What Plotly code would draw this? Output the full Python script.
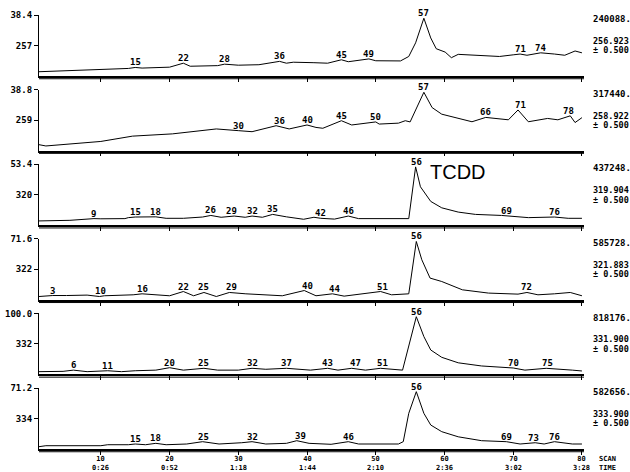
import numpy as np
import plotly.graph_objects as go

# ---------------- data (scan number vs. relative intensity, % of panel full scale) -------------
p1_scan = [1, 4.5, 10, 14, 15, 16, 20, 22, 23, 25.5, 27, 28, 30, 33, 36, 37, 38, 41, 43, 45, 46, 49, 50,
           53.6, 54.8, 55.8, 57, 58, 58.8, 60.1, 61, 62, 64, 66, 68, 70, 71, 72, 74, 76, 77.5, 79, 80]
p1_int = [7, 8.5, 10, 12.4, 14, 13, 14.5, 21, 16, 16, 17, 19.4, 17.7, 18.5, 24, 21, 22.6, 21.8, 21, 26.6, 23.4, 28, 25,
          24.7, 32, 54.4, 94.7, 62.4, 44.7, 39.2, 30, 35.5, 34, 33, 32, 34.7, 36, 34, 38, 36, 34, 41, 38]
p1_peaks = [15, 22, 28, 36, 45, 49, 57, 71, 74]

p2_scan = [1, 2, 10, 14.6, 20.4, 26.8, 30, 32, 35.5, 37.4, 40, 41.3, 42.3, 45, 46.5, 50, 50.5, 53.3, 54.3, 55,
           57, 58.2, 59.6, 64, 66, 69.3, 70.7, 72.2, 75, 76.5, 78.3, 79, 80]
p2_int = [9.7, 7.6, 15, 23.7, 27.4, 35.5, 32.7, 31, 40.8, 35.5, 42, 38, 36.6, 49, 42, 47, 43.5, 45, 49, 47,
          95.6, 70.5, 59.7, 47.3, 54.4, 50.5, 66.6, 47.3, 52.7, 50.5, 57, 46, 54]
p2_peaks = [30, 36, 40, 45, 50, 57, 66, 71, 78]

p3_scan = [1, 5.5, 9, 10, 13.5, 14, 15, 18, 19.5, 22, 24.8, 26, 27.5, 29.4, 31, 32, 33.5, 35, 37, 39.5,
           41, 42, 44, 46, 47.5, 54.8, 55.8, 56.5, 58, 59.6, 62, 64.5, 68.3, 72.2, 76, 78, 80]
p3_int = [7, 8, 10.8, 10.5, 10.8, 12.4, 13.4, 13.7, 11.3, 11.3, 13.4, 16, 13, 15, 13, 15, 13, 17.7, 13.7, 9.7,
          13, 11.3, 10, 15, 10.8, 10.8, 95.6, 63, 39, 28.5, 21.5, 17.7, 16, 12.4, 13.4, 11.3, 11.3]
p3_peaks = [9, 15, 18, 26, 29, 32, 35, 42, 46, 56, 69, 76]

p4_scan = [1, 3, 5, 8, 9.8, 10.5, 14.7, 16, 20, 22, 23.5, 25, 26.8, 28.7, 31.1, 36.4, 39.6, 41.3, 43.7, 45.4,
           50.7, 52.3, 54.8, 55.9, 56.7, 57.9, 59.6, 62.6, 66.4, 70.7, 72, 73.6, 76, 78.3, 80]
p4_int = [5.4, 7, 7, 7.7, 5.4, 6.6, 8.2, 9.8, 6.6, 13.6, 6.6, 12, 5.4, 12, 9.8, 6.6, 15.2, 6.6, 9.8, 6,
          13.6, 8.2, 9.8, 95.6, 65.6, 35.6, 30, 16.4, 11, 9.3, 12, 8.2, 9.8, 12, 6.6]
p4_peaks = [3, 10, 16, 22, 25, 29, 40, 44, 51, 56, 72]

p5_scan = [1, 4.5, 6, 8, 11, 13, 15, 18, 20, 22, 25, 27, 30, 32, 34, 37, 40.5, 43, 44.5, 46.5,
           48.5, 50.7, 53.9, 54.4, 55.2, 55.9, 57, 58, 59.6, 62, 65.4, 69.3, 70, 71.7, 74.8, 78.6, 80]
p5_int = [4.5, 5, 7, 4.5, 6, 4.5, 6, 7, 11, 7, 10, 7, 7, 10, 8.4, 10, 7, 10, 7, 10,
          7, 10, 7, 29, 68, 94.6, 62, 40, 28, 19, 13.8, 10, 10.5, 7, 10, 7, 5.6]
p5_peaks = [6, 11, 20, 25, 32, 37, 43, 47, 51, 56, 70, 75]

p6_scan = [1, 2, 10, 11, 14, 15, 16.5, 18, 19.5, 22.5, 24.8, 27.2, 30.5, 32, 34, 37, 38.5, 40.3, 43.5, 46,
           47.5, 53.3, 54, 54.8, 55.9, 57, 58, 59.6, 62, 65.4, 69, 71, 73.2, 74.5, 76, 78.6, 80]
p6_int = [3.8, 5.4, 5.4, 7, 7, 8.2, 7, 9.3, 7, 8.2, 12, 8.2, 10.3, 12, 8.2, 9.3, 13.6, 9.3, 7.7, 12,
          8.2, 8.2, 12, 58.5, 94, 58.5, 39.3, 28.4, 20, 13.6, 12, 8.2, 10.3, 8.2, 12, 8.2, 8.2]
p6_peaks = [15, 18, 25, 32, 39, 46, 56, 69, 73, 76]

full_scale = ["38.4", "38.8", "53.4", "71.6", "100.0", "71.2"]
nominal_mass = ["257", "259", "320", "322", "332", "334"]
max_counts = ["240088.", "317440.", "437248.", "585728.", "818176.", "582656."]
exact_mass = ["256.923", "258.922", "319.904", "321.883", "331.900", "333.900"]
window = ["\u00b1 0.500"] * 6

x_ticks = [10, 20, 30, 40, 50, 60, 70, 80]
x_time = ["0:26", "0:52", "1:18", "1:44", "2:10", "2:36", "3:02", "3:28"]

panels = [(p1_scan, p1_int, p1_peaks), (p2_scan, p2_int, p2_peaks), (p3_scan, p3_int, p3_peaks),
          (p4_scan, p4_int, p4_peaks), (p5_scan, p5_int, p5_peaks), (p6_scan, p6_int, p6_peaks)]

# ---------------- layout geometry ----------------
W, H = 630, 472
ML, MR, MT, MB = 39, 46, 15, 23
PH = H - MT - MB
PW = W - ML - MR
STEP, PANEL_H = 74.6, 61

FONT = "DejaVu Sans Mono"
fig = go.Figure()
layout = dict(width=W, height=H, margin=dict(l=ML, r=MR, t=MT, b=MB, autoexpand=False),
              paper_bgcolor="white", plot_bgcolor="white", showlegend=False,
              font=dict(family=FONT, size=9, color="black"))
annotations = []
shapes = []

for i, (sc, it, pk) in enumerate(panels):
    n = i + 1
    sfx = "" if n == 1 else str(n)
    top_px = i * STEP
    bot_px = top_px + PANEL_H
    dom = [(PH - bot_px) / PH, (PH - top_px) / PH]
    dom = [max(0.0, dom[0]), min(1.0, dom[1])]
    fig.add_trace(go.Scatter(x=sc, y=it, mode="lines", line=dict(color="black", width=1),
                             xaxis="x" + sfx, yaxis="y" + sfx, hoverinfo="skip"))
    layout["xaxis" + sfx] = dict(domain=[0, 1], anchor="y" + sfx, range=[1, 80.3], automargin=False,
                                 showline=True, linecolor="black", linewidth=1.5,
                                 ticks="outside", ticklen=4, tickwidth=1, tickcolor="black",
                                 tickvals=x_ticks, showticklabels=False,
                                 showgrid=False, zeroline=False)
    layout["yaxis" + sfx] = dict(domain=dom, anchor="x" + sfx, range=[0, 100], automargin=False,
                                 showline=True, linecolor="black", linewidth=1.2,
                                 ticks="outside", ticklen=4, tickcolor="black",
                                 tickvals=[50, 100],
                                 ticktext=[f"<b>{nominal_mass[i]}</b>", f"<b>{full_scale[i]}</b>"],
                                 showgrid=False, zeroline=False,
                                 tickfont=dict(family=FONT, size=9))
    # second line of the double axis bar
    shapes.append(dict(type="line", xref="x" + sfx + " domain", yref="y" + sfx + " domain",
                       x0=0, x1=1, y0=-0.045, y1=-0.045, line=dict(color="black", width=1)))
    # peak scan-number labels
    sc_a = np.array(sc, dtype=float)
    it_a = np.array(it, dtype=float)
    for p in pk:
        yv = float(np.interp(p, sc_a, it_a))
        near = it_a[np.abs(sc_a - p) <= 0.6]
        if near.size:
            yv = max(yv, float(near.max()))
        annotations.append(dict(x=p, y=yv, xref="x" + sfx, yref="y" + sfx, text=f"<b>{p}</b>",
                                showarrow=False, yanchor="bottom", xanchor="center", yshift=-2,
                                font=dict(family=FONT, size=9)))
    # right-hand side info
    annotations.append(dict(x=1.012, y=0.93, xref="paper", yref="y" + sfx + " domain",
                            text=f"<b>{max_counts[i]}</b>", showarrow=False, xanchor="left",
                            yanchor="middle", font=dict(family=FONT, size=9)))
    annotations.append(dict(x=1.012, y=0.575, xref="paper", yref="y" + sfx + " domain",
                            text=f"<b>{exact_mass[i]}</b>", showarrow=False, xanchor="left",
                            yanchor="middle", font=dict(family=FONT, size=8.5)))
    annotations.append(dict(x=1.012, y=0.42, xref="paper", yref="y" + sfx + " domain",
                            text=f"<b>{window[i]}</b>", showarrow=False, xanchor="left",
                            yanchor="middle", font=dict(family=FONT, size=8.5)))

# bottom scan / time tick labels (two lines each)
Y_LBL = -(463 - (H - MB)) / PH
for v, t in zip(x_ticks, x_time):
    annotations.append(dict(x=v, y=Y_LBL, xref="x6", yref="paper", text=f"<b>{v}</b><br><b>{t}</b>",
                            showarrow=False, xanchor="center", yanchor="middle",
                            font=dict(family=FONT, size=7)))
annotations.append(dict(x=(597 - ML) / PW, y=Y_LBL, xref="paper", yref="paper",
                        text="<b>SCAN</b><br><b>TIME</b>", showarrow=False, xanchor="left",
                        yanchor="middle", align="left", font=dict(family=FONT, size=7)))

# TCDD label
annotations.append(dict(x=62, y=88, xref="x3", yref="y3", text="TCDD", showarrow=False,
                        xanchor="center", yanchor="middle",
                        font=dict(family="Liberation Sans", size=20, color="black")))

layout["annotations"] = annotations
layout["shapes"] = shapes
fig.update_layout(**layout)
fig.write_html("out.html", config={"displayModeBar": False},
               post_script="document.body.style.margin='0px';document.body.style.overflow='hidden';")
